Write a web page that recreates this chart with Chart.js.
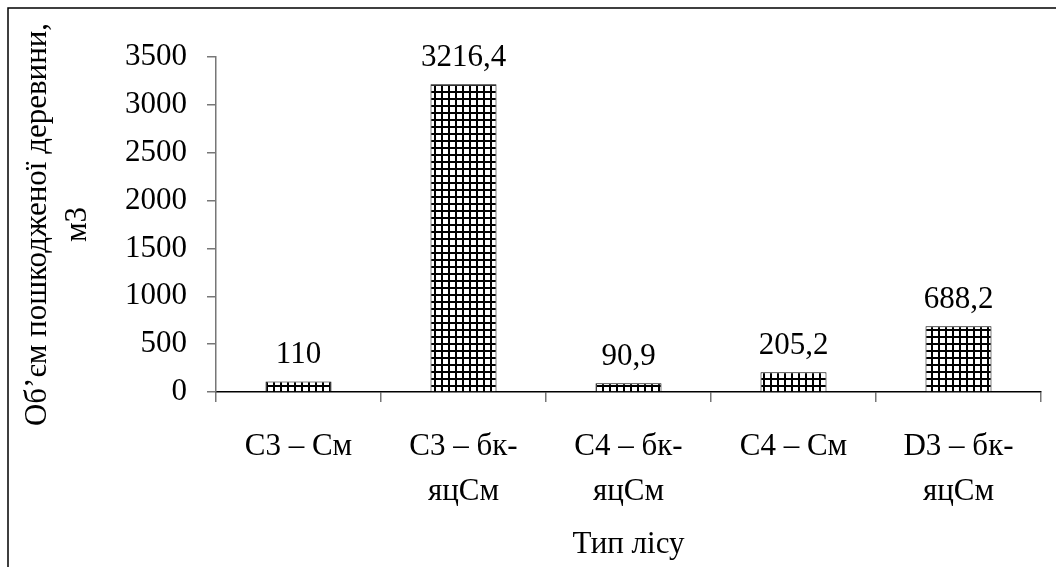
<!DOCTYPE html>
<html>
<head>
<meta charset="utf-8">
<script src="https://cdn.jsdelivr.net/npm/chart.js@4/dist/chart.umd.min.js"></script>
<style>
  html, body { margin: 0; padding: 0; background: #fff; }
  #wrap { width: 1056px; height: 567px; position: relative; }
</style>
</head>
<body>
<div id="wrap"><canvas id="c" width="1056" height="567"></canvas></div>
<script>
// ---- data ----
const categories = [
  ['C3 – См'],
  ['C3 – бк-', 'яцСм'],
  ['C4 – бк-', 'яцСм'],
  ['C4 – См'],
  ['D3 – бк-', 'яцСм']
];
const volumes = [110, 3216.4, 90.9, 205.2, 688.2];
const yTicks = [0, 500, 1000, 1500, 2000, 2500, 3000, 3500];
const yTitle = ['Об’єм пошкодженої деревини,', 'м3'];
const xTitle = 'Тип лісу';

// ---- style ----
const FONT = '"Liberation Serif", "Times New Roman", serif';
const FS = 31;

function makePattern() {
  const p = document.createElement('canvas');
  p.width = 7; p.height = 7;
  const g = p.getContext('2d');
  g.fillStyle = '#fff';
  g.fillRect(0, 0, 7, 7);
  g.fillStyle = '#000';
  g.fillRect(0, 0, 7, 2);
  g.fillRect(0, 0, 2, 7);
  return document.getElementById('c').getContext('2d').createPattern(p, 'repeat');
}

const frame = {
  id: 'frame',
  beforeDraw(chart) {
    const ctx = chart.ctx;
    ctx.save();
    ctx.fillStyle = '#fff';
    ctx.fillRect(0, 0, chart.width, chart.height);
    ctx.strokeStyle = '#000';
    ctx.lineWidth = 1.5;
    ctx.beginPath();
    ctx.moveTo(8, chart.height);
    ctx.lineTo(8, 8);
    ctx.lineTo(chart.width, 8);
    ctx.stroke();
    ctx.restore();
  }
};

const valueLabels = {
  id: 'valueLabels',
  afterDatasetsDraw(chart) {
    const ctx = chart.ctx;
    const meta = chart.getDatasetMeta(0);
    ctx.save();
    ctx.font = FS + 'px ' + FONT;
    ctx.fillStyle = '#000';
    ctx.textAlign = 'center';
    ctx.textBaseline = 'alphabetic';
    meta.data.forEach((bar, i) => {
      const txt = String(volumes[i]).replace('.', ',');
      ctx.fillText(txt, bar.x, bar.y - 18);
    });
    ctx.restore();
  }
};

new Chart(document.getElementById('c'), {
  type: 'bar',
  data: {
    labels: categories,
    datasets: [{
      data: volumes,
      backgroundColor: makePattern(),
      borderColor: '#000',
      borderWidth: 1,
      barPercentage: 0.4,
      categoryPercentage: 1.0
    }]
  },
  options: {
    responsive: false,
    animation: false,
    devicePixelRatio: 1,
    layout: { padding: { left: 10, right: 15, top: 57, bottom: 0 } },
    plugins: {
      legend: { display: false },
      tooltip: { enabled: false }
    },
    scales: {
      x: {
        afterFit(s) { s.height = 175; },
        grid: {
          display: true,
          offset: true,
          drawOnChartArea: false,
          drawTicks: true,
          tickLength: 10,
          color: '#777',
          lineWidth: 1.5
        },
        border: { display: true, color: '#000', width: 1.5 },
        ticks: {
          color: '#000',
          font: { family: FONT, size: FS, lineHeight: 45 / FS },
          padding: 22,
          maxRotation: 0,
          autoSkip: false
        },
        title: {
          display: true,
          text: xTitle,
          color: '#000',
          font: { family: FONT, size: FS, lineHeight: 1.2 },
          padding: { top: 0, bottom: 4 }
        }
      },
      y: {
        min: 0,
        max: 3500,
        afterFit(s) { s.width = 206; },
        afterBuildTicks(s) { s.ticks = yTicks.map(v => ({ value: v })); },
        grid: {
          display: true,
          drawOnChartArea: false,
          drawTicks: true,
          tickLength: 9,
          color: '#777',
          lineWidth: 1.5
        },
        border: { display: true, color: '#777', width: 1.5 },
        ticks: {
          color: '#000',
          font: { family: FONT, size: FS },
          padding: 20,
          callback: v => String(v)
        },
        title: {
          display: true,
          text: yTitle,
          color: '#000',
          font: { family: FONT, size: FS, lineHeight: 40 / FS },
          padding: { top: 8, bottom: 0 }
        }
      }
    }
  },
  plugins: [frame, valueLabels]
});
</script>
</body>
</html>
